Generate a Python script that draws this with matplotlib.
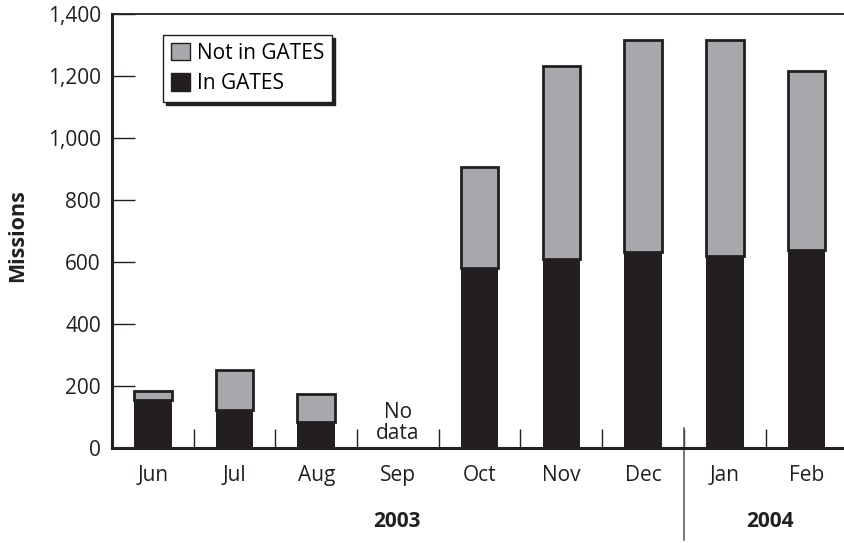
import numpy as np
import matplotlib
matplotlib.use('Agg')
import matplotlib.pyplot as plt

plt.rcParams['font.family'] = ['Open Sans', 'DejaVu Sans']

months = ['Jun', 'Jul', 'Aug', 'Sep', 'Oct', 'Nov', 'Dec', 'Jan', 'Feb']
in_gates = [155, 123, 84, 0, 580, 609, 631, 619, 638]
total = [184, 252, 174, 0, 906, 1231, 1314, 1314, 1214]
not_in_gates = [t - g for t, g in zip(total, in_gates)]
has_data = [True, True, True, False, True, True, True, True, True]
yticks = [0, 200, 400, 600, 800, 1000, 1200, 1400]

dark = '#231f20'
grey = '#a7a8ab'
fs = 15

fig = plt.figure(figsize=(8.44, 5.43), dpi=100)
ax = fig.add_axes([0.1327, 0.175, 0.8673, 0.800])

x = np.arange(len(months))
xs = x[has_data]
g = np.array(in_gates)[has_data]
n = np.array(not_in_gates)[has_data]

ax.bar(xs, g, width=0.46, color=dark, edgecolor='none', label='In GATES', zorder=2)
ax.bar(xs, n, width=0.46, bottom=g, color=grey, edgecolor=dark, linewidth=2,
       label='Not in GATES', zorder=2)

ax.text(3, 80, 'No\ndata', ha='center', va='center', fontsize=fs, color=dark,
        linespacing=1.0)

ax.set_xlim(-0.5, 8.46)
ax.set_ylim(0, 1400)
ax.set_yticks(yticks)
ax.set_yticklabels([f'{v:,}' for v in yticks])
ax.tick_params(axis='y', direction='in', length=16.5, width=1, pad=8,
               labelsize=fs, colors=dark)

ax.set_xticks(x)
ax.set_xticklabels(months)
ax.tick_params(axis='x', which='major', length=0, pad=12, labelsize=fs, colors=dark)
ax.set_xticks(np.arange(0.5, 8, 1), minor=True)
ax.tick_params(axis='x', which='minor', direction='in', length=14, width=1, color=dark)

ax.spines['right'].set_visible(False)
for s in ['left', 'bottom']:
    ax.spines[s].set_linewidth(2.2)
    ax.spines[s].set_color(dark)
ax.spines['top'].set_linewidth(1.3)
ax.spines['top'].set_color(dark)

# year separator between Dec and Jan
trans = ax.get_xaxis_transform()
ax.plot([6.5, 6.5], [0.046, -0.212], transform=trans, color='#555555', lw=1.1,
        clip_on=False)
ax.text(2.99, -0.170, '2003', transform=trans, ha='center', va='center',
        fontsize=fs, fontweight='bold', color=dark)
ax.text(7.56, -0.170, '2004', transform=trans, ha='center', va='center',
        fontsize=fs, fontweight='bold', color=dark)

ax.set_ylabel('Missions', fontsize=15.5, fontweight='bold', color=dark)
ax.yaxis.set_label_coords(-0.115, 0.49)

h, l = ax.get_legend_handles_labels()
leg = ax.legend(h[::-1], l[::-1], loc='upper left', bbox_to_anchor=(0.07, 0.951),
                borderaxespad=0, fancybox=False, edgecolor=dark, framealpha=1,
                shadow={'color': dark, 'alpha': 1}, fontsize=fs,
                handlelength=0.9, handleheight=0.9, handletextpad=0.35,
                labelspacing=0.45, borderpad=0.38)
leg.get_frame().set_linewidth(1)
for p in leg.get_patches():
    p.set_edgecolor(dark)
    p.set_linewidth(1)

fig.savefig('out.png', dpi=100)
